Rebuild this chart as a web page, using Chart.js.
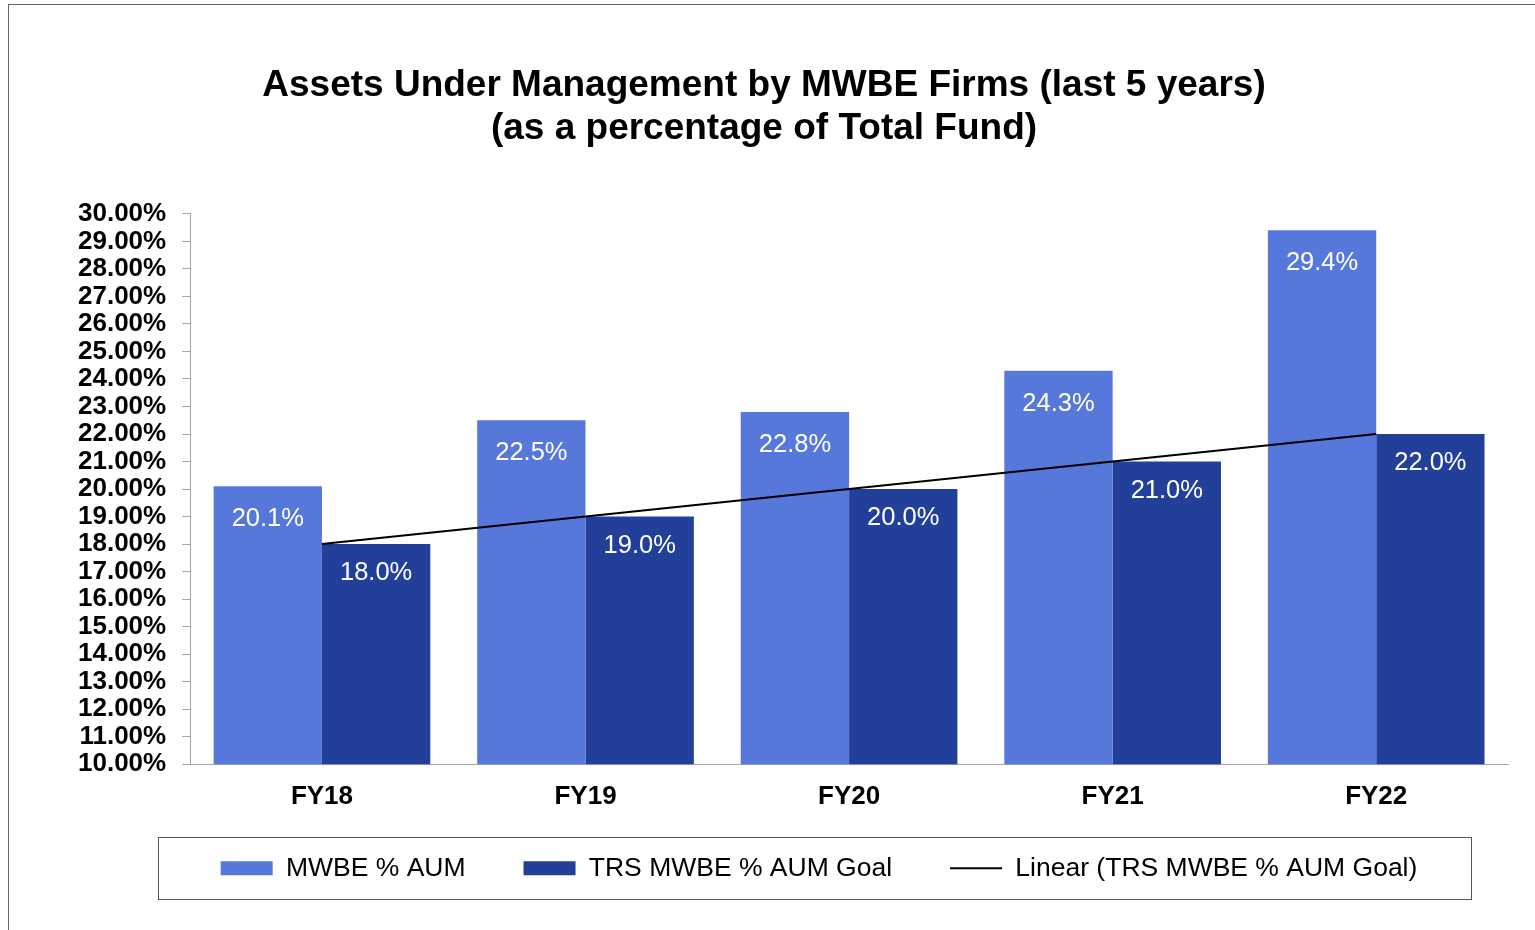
<!DOCTYPE html>
<html>
<head>
<meta charset="utf-8">
<script src="https://cdn.jsdelivr.net/npm/chart.js@4/dist/chart.umd.min.js"></script>
<style>
  html, body { margin: 0; padding: 0; background: #fff; overflow: hidden; }
  #frame { position: absolute; left: 8px; top: 4px; width: 1600px; height: 1000px; border: 1px solid #666; }
  #wrap { position: absolute; left: 0; top: 0; width: 1535px; height: 930px; }
</style>
</head>
<body>
<div id="frame"></div>
<div id="wrap"><canvas id="aumChart"></canvas></div>
<script>
// Chart data
const years = ['FY18', 'FY19', 'FY20', 'FY21', 'FY22'];
const mwbeAum = [20.1, 22.5, 22.8, 24.3, 29.4];
const aumGoal = [18.0, 19.0, 20.0, 21.0, 22.0];
const goalTrend = [18.0, 19.0, 20.0, 21.0, 22.0];
const yTicks = { min: 10, max: 30, step: 1 };

const FONT = "'Liberation Sans', Arial, sans-serif";
const AXIS_GREY = '#a6a6a6';
const LEGEND_SIZE = 26.5;

// white value labels just under the top of each bar
const barLabels = {
  id: 'barLabels',
  afterDatasetsDraw(chart, args, opts) {
    const ctx = chart.ctx;
    ctx.save();
    ctx.fillStyle = '#fff';
    ctx.font = '25.5px ' + FONT;
    ctx.textAlign = 'center';
    ctx.textBaseline = 'middle';
    chart.data.datasets.forEach((ds, i) => {
      if (ds.type === 'line') return;
      const offset = opts.offsets[i] || 30;
      chart.getDatasetMeta(i).data.forEach((bar, j) => {
        ctx.fillText(ds.data[j].toFixed(1) + '%', bar.x, bar.y + offset);
      });
    });
    ctx.restore();
  }
};

// move title / legend a bit and draw the box round the legend
const layoutTweaks = {
  id: 'layoutTweaks',
  afterLayout(chart, args, opts) {
    const t = chart.titleBlock;
    t.left += opts.titleShift;
    t.right += opts.titleShift;
    const lg = chart.legend;
    lg.left += opts.legendShift;
    lg.right += opts.legendShift;
    lg.top -= opts.legendRaise;
    lg.bottom -= opts.legendRaise;
  },
  afterDraw(chart) {
    const lg = chart.legend;
    const pad = lg.options.labels.padding;
    const total = lg.lineWidths[0] - pad;
    const start = (lg.left + lg.right - total) / 2;
    const cy = lg.top + pad + LEGEND_SIZE / 2;
    const ctx = chart.ctx;
    ctx.save();
    ctx.strokeStyle = '#555';
    ctx.lineWidth = 1;
    ctx.strokeRect(Math.round(start - 63) + 0.5, Math.round(cy - 31) + 0.5,
      Math.round(total + 116), 62);
    ctx.restore();
  }
};

new Chart(document.getElementById('aumChart'), {
  type: 'bar',
  data: {
    labels: years,
    datasets: [
      { label: 'MWBE % AUM', data: mwbeAum, backgroundColor: '#5678db', borderWidth: 0, pointStyle: 'rect' },
      { label: 'TRS MWBE % AUM Goal', data: aumGoal, backgroundColor: '#22409a', borderWidth: 0, pointStyle: 'rect' },
      {
        type: 'line', label: 'Linear (TRS MWBE % AUM Goal)', data: goalTrend,
        borderColor: '#000', backgroundColor: '#000', borderWidth: 2,
        pointRadius: 0, pointStyle: 'line', order: -1
      }
    ]
  },
  options: {
    responsive: true,
    maintainAspectRatio: false,
    animation: false,
    layout: { padding: { left: 62, right: 27, top: 0, bottom: 6 } },
    datasets: { bar: { barPercentage: 1, categoryPercentage: 0.822 } },
    plugins: {
      title: {
        display: true,
        text: ['Assets Under Management by MWBE Firms (last 5 years)', '(as a percentage of Total Fund)'],
        color: '#000',
        font: { family: FONT, size: 37, weight: 'bold', lineHeight: 1.16 },
        padding: { top: 64, bottom: 64 }
      },
      legend: {
        position: 'bottom',
        labels: {
          usePointStyle: true,
          pointStyleWidth: 52,
          boxHeight: 14,
          padding: 58,
          color: '#000',
          font: { family: FONT, size: LEGEND_SIZE },
          sort: (a, b) => a.datasetIndex - b.datasetIndex
        }
      },
      tooltip: { enabled: false },
      barLabels: { offsets: { 0: 33, 1: 29 } },
      layoutTweaks: { titleShift: -21, legendShift: 34, legendRaise: 32.5 }
    },
    scales: {
      x: {
        grid: { display: false, drawTicks: false },
        border: { display: true, color: AXIS_GREY, width: 1 },
        ticks: { color: '#000', padding: 17, font: { family: FONT, size: 26, weight: 'bold' } }
      },
      y: {
        min: yTicks.min,
        max: yTicks.max,
        grid: { drawOnChartArea: false, drawTicks: true, tickLength: 8, color: AXIS_GREY },
        border: { display: true, color: AXIS_GREY, width: 1 },
        ticks: {
          stepSize: yTicks.step,
          autoSkip: false,
          padding: 16,
          color: '#000',
          font: { family: FONT, size: 26, weight: 'bold', lineHeight: 1.0 },
          callback: v => v.toFixed(2) + '%'
        }
      }
    }
  },
  plugins: [barLabels, layoutTweaks]
});
</script>
</body>
</html>
